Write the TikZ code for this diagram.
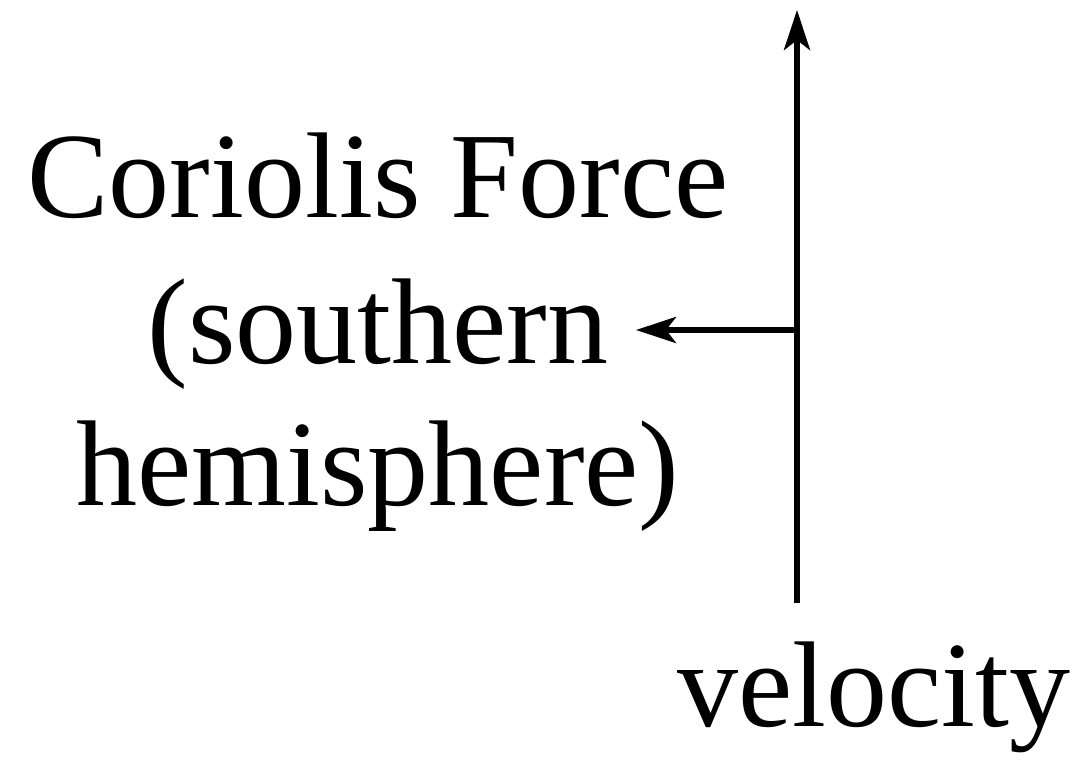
\documentclass[tikz,border=0pt]{standalone}
\usepackage{fontspec}
\setmainfont{Liberation Serif}
\usetikzlibrary{arrows.meta}
\begin{document}
\begin{tikzpicture}[x=1pt,y=-1pt,
  lbl/.style={inner sep=0pt,anchor=base,font=\fontsize{122}{150}\selectfont},
  arr/.style={line width=5.5pt,-{Stealth[length=40pt,width=26pt,inset=10pt]}}]
\useasboundingbox (0,0) rectangle (1092,768);
\node[lbl] (l1) at (378,217) {Coriolis Force};
\node[lbl] (l2) at (378,363) {(southern};
\node[lbl] (l3) at (378,505) {hemisphere)};
\node[lbl] (vel) at (874,726) {velocity};
\coordinate (vb) at (797,603);
\coordinate (vt) at (797,10);
\coordinate (hm) at (797,330);
\coordinate (hl) at (636,330);
\draw[arr] (vb) -- (vt);
\draw[arr] (hm) -- (hl);
\end{tikzpicture}
\end{document}
